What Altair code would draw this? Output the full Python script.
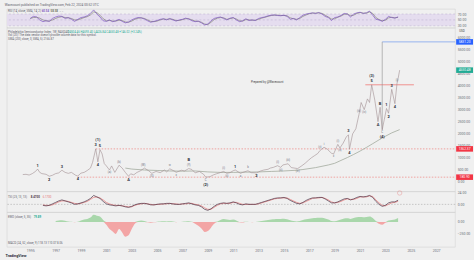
import altair as alt
import pandas as pd

FONT = "Roboto"
W = 452
H_RSI, H_MAIN, H_TSI, H_EWO = 19, 165, 21, 35

X_DOMAIN = [alt.DateTime(year=1993, month=3, date=1),
            alt.DateTime(year=2028, month=7, date=1)]

# ---------------- weekly index closes at the swing points ----------------
price_dates = [
    "1994-06-01", "1994-09-01", "1994-12-01", "1995-03-01", "1995-06-01", "1995-08-01", "1995-10-01", "1995-12-01",
    "1996-04-01", "1996-07-01", "1996-10-01", "1997-01-01", "1997-04-01", "1997-07-01", "1997-10-01",
    "1998-01-01", "1998-04-01", "1998-08-01", "1998-10-01", "1999-01-01", "1999-04-01", "1999-07-01", "1999-10-01", "1999-12-01",
    "2000-03-01", "2000-05-01", "2000-07-01", "2000-09-01", "2000-11-01",
    "2001-01-01", "2001-04-01", "2001-06-01", "2001-09-01", "2001-12-01",
    "2002-01-01", "2002-04-01", "2002-07-01", "2002-10-01", "2002-12-01",
    "2003-03-01", "2003-06-01", "2003-09-01", "2003-12-01",
    "2004-01-01", "2004-05-01", "2004-08-01", "2004-12-01",
    "2005-04-01", "2005-08-01", "2005-10-01",
    "2006-01-01", "2006-06-01", "2006-07-01", "2006-12-01",
    "2007-03-01", "2007-07-01", "2007-10-01",
    "2008-01-01", "2008-05-01", "2008-09-01", "2008-11-01",
    "2009-03-01", "2009-06-01", "2009-09-01", "2009-12-01",
    "2010-04-01", "2010-07-01", "2010-10-01",
    "2011-01-01", "2011-03-01", "2011-08-01", "2011-10-01",
    "2012-03-01", "2012-06-01", "2012-11-01",
    "2013-03-01", "2013-06-01", "2013-10-01", "2013-12-01",
    "2014-03-01", "2014-07-01", "2014-10-01", "2014-12-01",
    "2015-05-01", "2015-08-01",
    "2016-02-01", "2016-06-01", "2016-09-01", "2016-12-01",
    "2017-03-01", "2017-06-01", "2017-09-01", "2017-11-01",
    "2018-03-01", "2018-06-01", "2018-10-01", "2018-12-01",
    "2019-04-01", "2019-06-01", "2019-09-01", "2019-12-01",
    "2020-02-01", "2020-03-01", "2020-06-01", "2020-09-01", "2020-12-01",
    "2021-02-01", "2021-05-01", "2021-08-01", "2021-10-01", "2021-12-01",
    "2022-03-01", "2022-06-01", "2022-08-01", "2022-10-01", "2022-12-01",
    "2023-02-01", "2023-04-01", "2023-07-01", "2023-10-01", "2023-12-01",
    "2024-01-01", "2024-02-15",
]
price_close = [
    290, 300, 270, 330, 420, 520, 380, 330,
    300, 220, 260, 330, 360, 470, 380,
    340, 380, 260, 230, 350, 380, 460, 560, 800,
    1362.37, 820, 1330, 1150, 750,
    650, 480, 650, 380, 600,
    680, 560, 380, 220, 320,
    280, 380, 440, 530,
    560, 450, 340, 420,
    370, 480, 400,
    530, 420, 380, 470,
    440, 540, 500,
    360, 420, 300, 180.90,
    200, 270, 320, 360,
    420, 340, 370,
    450, 480, 340, 380,
    450, 370, 360,
    440, 480, 510, 560,
    590, 660, 590, 690,
    740, 580,
    540, 660, 760, 880,
    990, 1080, 1170, 1290,
    1430, 1350, 1180, 1150,
    1550, 1400, 1600, 1860,
    1950, 1350, 1990, 2200, 2800,
    3300, 3000, 3450, 3300, 4039.51,
    3400, 2500, 3100, 2162.00, 2600,
    3050, 2850, 3850, 3250, 4100,
    4300, 4650.48,
]
prev_close = 4504.46
bar_open, bar_high, bar_low = 4504.46, 4693.40, 4426.84

# 200-week simple moving average
sma_dates = [
    "2002-07-01", "2003-01-01", "2004-01-01", "2005-01-01", "2006-01-01", "2007-01-01", "2008-01-01",
    "2009-01-01", "2010-01-01", "2011-01-01", "2012-01-01", "2013-01-01", "2014-01-01", "2015-01-01",
    "2016-01-01", "2016-07-01", "2017-07-01", "2018-07-01", "2019-01-01", "2019-07-01", "2020-01-01",
    "2020-07-01", "2021-01-01", "2021-07-01", "2022-01-01", "2022-07-01", "2023-01-01", "2023-07-01",
    "2024-02-15",
]
sma_values = [
    560, 520, 480, 460, 440, 430, 440,
    400, 380, 380, 390, 400, 420, 440,
    470, 500, 580, 690, 760, 880, 1000,
    1130, 1270, 1420, 1580, 1740, 1890, 2030,
    2166.87,
]

# key levels drawn across the chart
high_2000 = 1362.37
low_2008 = 180.90
high_2021 = 4039.51
low_2022 = 2162.00
target = 5831.20

# RSI(14) and its SMA, quarterly from 1995
rsi_values = [
    55, 62, 60, 50, 44, 47, 45, 55, 60, 63, 62, 55, 58, 52, 45, 52, 58, 60, 64, 72,
    84, 70, 60, 47, 45, 50, 44, 47, 52, 45, 40, 43, 50, 55, 58, 57, 53, 47, 42, 45,
    48, 52, 54, 50, 55, 50, 46, 50, 52, 56, 53, 47, 44, 46, 40, 33, 36, 47, 55, 58,
    60, 55, 50, 56, 58, 50, 44, 47, 54, 48, 50, 48, 55, 58, 60, 64, 66, 67, 65, 64,
    66, 62, 52, 55, 50, 58, 66, 70, 72, 74, 72, 75, 70, 62, 58, 48, 58, 60, 65, 72,
    70, 60, 70, 74, 76, 72, 74, 80, 66, 52, 50, 45, 52, 62, 58, 56, 60.54,
]
rsi_signal = [
    55, 58, 59, 56, 50, 47, 46, 50, 55, 59, 61, 58, 57, 55, 50, 50, 54, 58, 61, 67,
    77, 75, 66, 54, 47, 48, 46, 46, 49, 48, 43, 42, 46, 52, 56, 57, 55, 50, 45, 44,
    46, 50, 53, 52, 53, 52, 48, 48, 51, 54, 54, 50, 46, 45, 42, 36, 34, 42, 51, 56,
    58, 57, 52, 54, 57, 53, 47, 46, 51, 50, 49, 49, 52, 56, 59, 62, 65, 66, 66, 65,
    65, 64, 57, 54, 52, 55, 62, 67, 71, 73, 73, 74, 72, 66, 60, 53, 54, 59, 63, 69,
    70, 64, 66, 72, 75, 73, 73, 77, 72, 58, 51, 47, 49, 57, 59, 57, 58.58,
]

# TSI and signal, quarterly from 1996
tsi_values = [
    -2, -3, -2, 1, 4, 7, 9, 7, 5, 3, 0, 1, 3, 5, 8, 12, 18, 15, 12, 6,
    1, -1, -2, -3, -2, -3, -5, -6, -4, -1, 1, 2, 2, 1, -1, -1, 0, 1, 1, 2,
    2, 1, 0, 0, 1, 2, 3, 1, -1, -2, -5, -10, -12, -9, -4, 0, 2, 3, 2, 3,
    5, 3, 0, -1, 1, 0, 0, 0, 2, 4, 6, 8, 10, 12, 13, 13, 14, 12, 8, 5,
    2, 1, 4, 8, 11, 13, 13, 14, 14, 11, 7, 3, 3, 5, 8, 11, 12, 9, 11, 14,
    16, 15, 16, 18, 14, 6, 0, -4, -2, 3, 5, 5, 8.47,
]
tsi_signal = [
    -1, -2, -2, -1, 2, 5, 7, 7, 6, 4, 2, 1, 2, 4, 6, 10, 14, 15, 13, 9,
    4, 1, -1, -2, -2, -3, -4, -5, -5, -2, 0, 1, 2, 1, 0, -1, 0, 0, 1, 1,
    2, 1, 1, 0, 1, 1, 2, 2, 0, -1, -3, -7, -10, -10, -6, -2, 1, 2, 2, 2,
    4, 4, 2, 0, 0, 0, 0, 0, 1, 3, 5, 7, 9, 11, 12, 13, 13, 13, 10, 7,
    4, 2, 3, 6, 9, 12, 13, 13, 14, 12, 9, 5, 3, 4, 6, 9, 11, 10, 10, 12,
    15, 15, 15, 17, 16, 9, 3, -2, -3, 0, 3, 4, 6.17,
]

# Elliott wave oscillator, quarterly from 1997
ewo_values = [
    20, 30, 35, 25, 10, 5, -5, 5, 30, 50, 60, 90, 150, 130, 110, 40,
    -60, -150, -200, -250, -150, -220, -310, -280, -150, -40, 20, 30, 20, -10, -20, -10,
    5, 10, 15, 10, 15, 10, -5, 0, 5, 10, 15, 5, -40, -80, -140, -210,
    -190, -120, -40, 10, 40, 60, 50, 40, 50, 30, -10, -15, 5, 0, -5, 0,
    10, 20, 30, 40, 50, 55, 60, 60, 65, 55, 35, 20, 10, 20, 40, 55,
    65, 75, 80, 85, 85, 70, 50, 20, 15, 30, 50, 70, 75, 60, 80, 95,
    100, 95, 100, 110, 80, 20, -40, -60, -20, 30, 40, 50, 79.89,
]

# wave count annotations
wave_dates = [
    "1995-08-01", "1996-07-01", "1997-07-01", "1998-10-01", "2000-03-01", "2000-07-01", "2000-05-01", "2000-05-01",
    "2001-04-01", "2002-01-01", "2002-10-01", "2003-12-01", "2004-08-01", "2006-01-01", "2006-07-01", "2007-07-01",
    "2007-07-01", "2008-11-01", "2008-11-01", "2010-04-01", "2010-07-01", "2011-03-01", "2011-08-01", "2012-03-01",
    "2012-11-01", "2014-07-01", "2014-10-01", "2015-05-01", "2016-02-01", "2017-11-01", "2018-03-01", "2018-12-01",
    "2019-04-01", "2019-06-01", "2020-02-01", "2020-03-01", "2020-12-01", "2021-05-01", "2021-12-01", "2021-12-01",
    "2022-06-01", "2022-08-01", "2022-10-01", "2022-10-01", "2023-02-01", "2023-04-01", "2023-07-01", "2023-10-01",
    "2023-12-01",
]
wave_values = [
    520, 220, 470, 230, 1362.37, 1330, 1362.37, 820,
    480, 680, 220, 530, 340, 530, 380, 540,
    540, 180.90, 180.90, 420, 340, 480, 340, 450,
    360, 660, 590, 740, 540, 1290, 1430, 1150,
    1550, 1400, 1950, 1350, 2800, 3000, 4039.51, 4039.51,
    2500, 3100, 2162.00, 2162.00, 3050, 2850, 3850, 3250,
    4100,
]
wave_text = [
    "1", "2", "3", "4", "3", "5", "(1)", "4",
    "(a)", "(b)", "A", "(W)", "(X)", "w", "x", "(Y)",
    "B", "C", "(2)", "(i)", "(ii)", "1", "a", "b",
    "2", "(i)", "(ii)", "(iii)", "(iv)", "(v)", "i", "ii",
    "(i)", "(ii)", "3", "4", "(iii)", "(iv)", "5", "(3)",
    "A", "B", "C", "(4)", "1", "2", "3", "4",
    "(i)",
]
wave_place = [
    "above", "below", "above", "below", "above", "above", "high", "below",
    "below", "above", "below", "above", "below", "above", "below", "above",
    "high", "below", "low2", "above", "below", "above", "below", "above",
    "below", "above", "below", "above", "below", "above", "above", "below",
    "above", "below", "above", "below", "above", "below", "above", "high",
    "below", "above", "below", "low2", "above", "below", "above", "below",
    "above",
]
wave_tier = [
    "major", "major", "major", "major", "major", "major", "major", "major",
    "minor", "minor", "major", "minor", "minor", "minor", "minor", "minor",
    "major", "minor", "major", "minor", "minor", "major", "minor", "minor",
    "major", "minor", "minor", "minor", "minor", "minor", "minor", "minor",
    "minor", "minor", "major", "major", "minor", "minor", "major", "major",
    "major", "major", "minor", "major", "major", "major", "major", "major",
    "minor",
]

price_ticks = list(range(0, 6001, 500))
rsi_ticks = [30, 50, 70]
tsi_ticks = [0, 24]
ewo_ticks = [0, -250]
year_ticks = list(range(1995, 2028, 2))

# ---------------- frames ----------------
price_df = pd.DataFrame({"date": pd.to_datetime(price_dates), "close": price_close})
sma_df = pd.DataFrame({"date": pd.to_datetime(sma_dates), "sma": sma_values})
rsi_df = pd.DataFrame({"date": pd.date_range("1995-01-01", periods=len(rsi_values), freq="QS"),
                       "rsi": rsi_values, "signal": rsi_signal})
tsi_df = pd.DataFrame({"date": pd.date_range("1996-01-01", periods=len(tsi_values), freq="QS"),
                       "tsi": tsi_values, "signal": tsi_signal})
ewo_df = pd.DataFrame({"date": pd.date_range("1997-01-01", periods=len(ewo_values), freq="QS"),
                       "ewo": ewo_values})
wave_df = pd.DataFrame({"date": pd.to_datetime(wave_dates), "value": wave_values,
                        "text": wave_text, "place": wave_place, "tier": wave_tier})

dotted_df = pd.DataFrame({"start": pd.to_datetime(["2000-03-01", "1998-10-01"]),
                          "end": pd.to_datetime(["2028-07-01", "2028-07-01"]),
                          "value": [high_2000, low_2008]})
resist_df = pd.DataFrame({"start": pd.to_datetime(["2021-06-01"]), "end": pd.to_datetime(["2025-04-01"]),
                          "value": [high_2021]})
target_df = pd.DataFrame({"start": pd.to_datetime(["2022-10-01"]), "end": pd.to_datetime(["2028-07-01"]),
                          "value": [target], "base": [low_2022]})
pill_df = pd.DataFrame({"value": [target, price_close[-1], high_2000, low_2008],
                        "color": ["#2962ff", "#22ab94", "#f23645", "#f23645"]})


def xenc(field="date", axis=None):
    return alt.X(f"{field}:T", scale=alt.Scale(domain=X_DOMAIN), axis=axis, title=None)


def caption(text, x, y, color="#5d606b", size=2.9, weight="normal"):
    return alt.Chart(pd.DataFrame({"t": [text]})).mark_text(
        align="left", baseline="middle", fontSize=size, color=color, fontWeight=weight, font=FONT
    ).encode(x=alt.value(x), y=alt.value(y), text="t:N")


# ---------------- RSI panel ----------------
rsi_scale = alt.Scale(domain=[23, 87], nice=False, zero=False)
rsi_axis = alt.Axis(orient="right", values=rsi_ticks, format=".2f", title=None)
ry = lambda f: alt.Y(f"{f}:Q", scale=rsi_scale, axis=rsi_axis, title=None)

rsi_band = alt.Chart(pd.DataFrame({"lo": [30], "hi": [70]})).mark_rect(color="#e5ddef").encode(
    x=alt.value(0), x2=alt.value(W), y=ry("lo"), y2="hi:Q")
rsi_guides = alt.Chart(pd.DataFrame({"v": rsi_ticks})).mark_rule(
    color="#b8accb", strokeDash=[2, 2], strokeWidth=0.5).encode(y=ry("v"))
rsi_sig_line = alt.Chart(rsi_df).mark_line(color="#6f7361", strokeWidth=0.6).encode(x=xenc(), y=ry("signal"))
rsi_line = alt.Chart(rsi_df).mark_line(color="#7e57c2", strokeWidth=0.7).encode(x=xenc(), y=ry("rsi"))

rsi_panel = alt.layer(
    rsi_band, rsi_guides, rsi_sig_line, rsi_line,
    caption("RSI (14, close, SMA, 14, 2)", 1, 2.4),
    caption(f"{rsi_values[-1]:.2f}", 35, 2.4, "#7e57c2", weight="bold"),
    caption(f"{rsi_signal[-1]:.2f}", 44, 2.4, "#6f7361", weight="bold"),
    caption("\u02c4  \u02c5", 53, 2.4, "#888"),
).properties(width=W, height=H_RSI)

# ---------------- price panel ----------------
main_scale = alt.Scale(domain=[-417, 6417], nice=False, zero=False)
main_axis = alt.Axis(orient="right", values=price_ticks, format=".2f", title=None)
my = lambda f: alt.Y(f"{f}:Q", scale=main_scale, axis=main_axis, title=None)

dotted = alt.Chart(dotted_df).mark_rule(color="#ef5350", strokeDash=[1.5, 1.5], strokeWidth=0.5).encode(
    x=xenc("start"), x2="end:T", y=my("value"))
resist = alt.Chart(resist_df).mark_rule(color="#ef5350", strokeWidth=0.6).encode(
    x=xenc("start"), x2="end:T", y=my("value"))
target_h = alt.Chart(target_df).mark_rule(color="#5b8def", strokeWidth=0.6).encode(
    x=xenc("start"), x2="end:T", y=my("value"))
target_v = alt.Chart(target_df).mark_rule(color="#8f8f8f", strokeWidth=0.6).encode(
    x=xenc("start"), y=my("base"), y2="value:Q")
sma_line = alt.Chart(sma_df).mark_line(color="#a3aa9e", strokeWidth=0.8).encode(x=xenc(), y=my("sma"))
price_line = alt.Chart(price_df).mark_line(color="#a08e92", strokeWidth=0.6).encode(x=xenc(), y=my("close"))

place_style = {"above": ("bottom", -1.5), "below": ("top", 1.5), "high": ("bottom", -6.5), "low2": ("top", 5.5)}
tier_style = {"major": (4.0, "bold", "#2a2e39"), "minor": (2.8, "normal", "#6a6d78")}
wave_layers = []
for place, (baseline, dy) in place_style.items():
    for tier, (size, weight, color) in tier_style.items():
        wave_layers.append(
            alt.Chart(wave_df).transform_filter(
                (alt.datum.place == place) & (alt.datum.tier == tier)
            ).mark_text(baseline=baseline, dy=dy, fontSize=size, fontWeight=weight, color=color, font=FONT)
            .encode(x=xenc(), y=my("value"), text="text:N")
        )

pill_box = alt.Chart(pill_df).mark_rect(yOffset=-2.8, y2Offset=2.8).encode(
    x=alt.value(W + 1), x2=alt.value(W + 18), y=my("value"), y2="value:Q",
    color=alt.Color("color:N", scale=None))
pill_text = alt.Chart(pill_df).mark_text(fontSize=3.3, color="white", font=FONT, baseline="middle").encode(
    x=alt.value(W + 9.5), y=my("value"), text=alt.Text("value:Q", format=".2f"))

chg = price_close[-1] - prev_close
ohlc = (f"O{bar_open:.2f} H{bar_high:.2f} L{bar_low:.2f} C{price_close[-1]:.2f} "
        f"+{chg:.2f} (+{chg / prev_close * 100:.2f}%)")

main_panel = alt.layer(
    dotted, resist, target_h, target_v, sma_line, price_line, *wave_layers, pill_box, pill_text,
    caption("Philadelphia Semiconductor Index, 1W, NASDAQ", 1, 4),
    caption(ohlc, 61, 4, "#22ab94"),
    caption("Vol (20): The data vendor doesn't provide volume data for this symbol.", 1, 7.7),
    caption(f"SMA (200, close, 0, SMA, 5)  {sma_values[-1]:.2f}", 1, 11.3),
    caption("Prepared by @Wavecount", 246, 55, "#444"),
    caption("USD", W + 4, 3, "#444", size=3),
).properties(width=W, height=H_MAIN)

# ---------------- TSI panel ----------------
tsi_scale = alt.Scale(domain=[-16, 26], nice=False, zero=False)
tsi_axis = alt.Axis(orient="right", values=tsi_ticks, format=".2f", title=None)
ty = lambda f: alt.Y(f"{f}:Q", scale=tsi_scale, axis=tsi_axis, title=None)

tsi_zero = alt.Chart(pd.DataFrame({"v": [0]})).mark_rule(
    color="#9a9a9a", strokeDash=[1.5, 1.5], strokeWidth=0.5).encode(y=ty("v"))
tsi_sig_line = alt.Chart(tsi_df).mark_line(color="#e57373", strokeWidth=0.7).encode(x=xenc(), y=ty("signal"))
tsi_line = alt.Chart(tsi_df).mark_line(color="#4a3246", strokeWidth=0.7).encode(x=xenc(), y=ty("tsi"))
alert_icon = alt.Chart(pd.DataFrame({"date": pd.to_datetime(["2024-02-15"])})).mark_point(
    shape="circle", size=20, filled=False, stroke="#e57373", strokeWidth=0.5).encode(
    x=xenc(), y=alt.value(1.5))

tsi_panel = alt.layer(
    tsi_zero, tsi_sig_line, tsi_line, alert_icon,
    caption("TSI (25, 13, 13)", 1, 6),
    caption(f"{tsi_values[-1]:.4f}", 24, 6, "#4a3246", weight="bold"),
    caption(f"{tsi_signal[-1]:.4f}", 36, 6, "#e57373"),
).properties(width=W, height=H_TSI)

# ---------------- EWO panel (carries the time axis) ----------------
ewo_scale = alt.Scale(domain=[-524, 200], nice=False, zero=False)
ewo_axis = alt.Axis(orient="right", values=ewo_ticks, format=".2f", title=None)
x_axis = alt.Axis(
    values=[alt.DateTime(year=y, month=1, date=1) for y in year_ticks], format="%Y",
    labelFontSize=3.5, labelColor="#6a6d78", labelPadding=2, labelFlush=False,
    title="TradingView", titleFontSize=3.8, titleFontWeight="bold", titleColor="#2a2e39",
    titleAnchor="start", titleAlign="left", titleBaseline="middle", titleX=-2, titleY=9,
)

ewo_pos = alt.Chart(ewo_df).transform_calculate(v="max(datum.ewo, 0)").mark_area(
    color="#a9d7ab", interpolate="monotone").encode(
    x=xenc(axis=x_axis), y=alt.Y("v:Q", scale=ewo_scale, axis=ewo_axis, title=None), y2=alt.datum(0))
ewo_neg = alt.Chart(ewo_df).transform_calculate(v="min(datum.ewo, 0)").mark_area(
    color="#f3a5a5", interpolate="monotone").encode(
    x=xenc(axis=x_axis), y=alt.Y("v:Q", scale=ewo_scale, axis=ewo_axis, title=None), y2=alt.datum(0))

ewo_panel = alt.layer(
    ewo_pos, ewo_neg,
    caption("EWO (close, 5, 35)", 1, 5),
    caption(f"{ewo_values[-1]:.2f}", 27, 5, "#22ab94", weight="bold"),
    caption("MACD (24, 52, close, 9)  118.13  110.07  8.06", 1, 31),
).properties(width=W, height=H_EWO)

chart = alt.vconcat(
    rsi_panel, main_panel, tsi_panel, ewo_panel, spacing=0, bounds="flush",
    title=alt.TitleParams("Wavecount published on TradingView.com, Feb 22, 2024 00:52 UTC",
                          anchor="start", fontSize=3.2, fontWeight="normal", color="#5d606b",
                          offset=2.5, font=FONT),
).resolve_scale(x="independent", y="independent").configure(
    background="#f0f0f0", padding={"left": 4, "top": 1, "right": 0, "bottom": 0}, font=FONT,
).configure_view(
    stroke="#d3d3d3", strokeWidth=0.6,
).configure_axis(
    ticks=False, domain=False, grid=False, labelFontSize=3.5, labelColor="#6a6d78", labelPadding=2,
)

chart.save("out.html", embed_options={"renderer": "svg", "actions": False})
